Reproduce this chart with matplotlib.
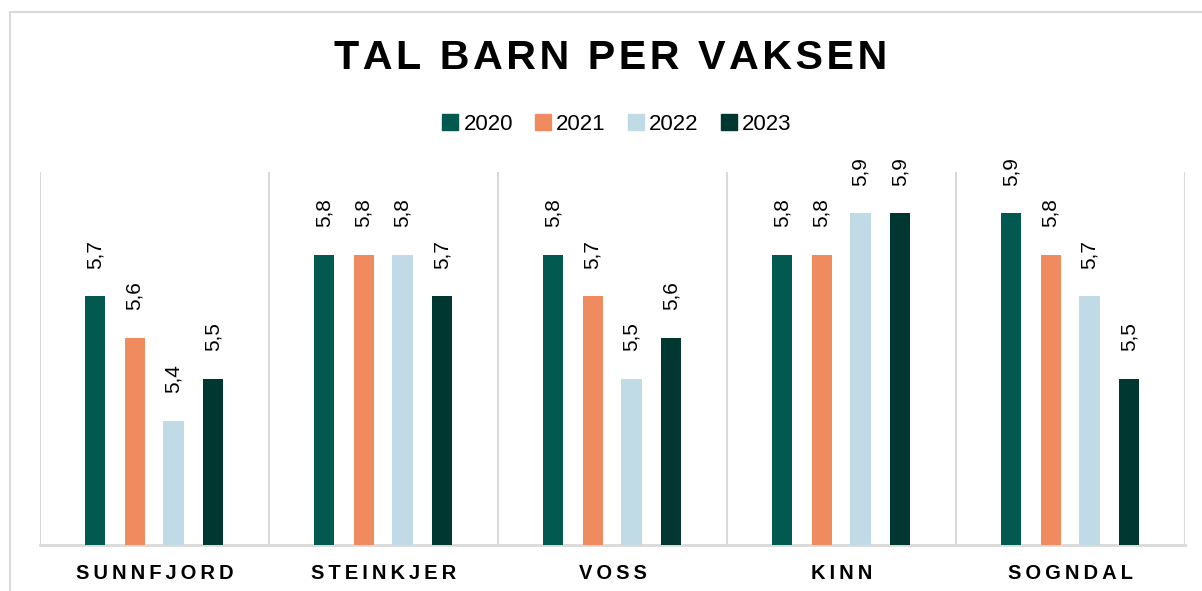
import numpy as np
import matplotlib.pyplot as plt
from matplotlib.patches import Rectangle, Patch

plt.rcParams['font.family'] = ['Liberation Sans', 'DejaVu Sans']

kommunar = ["SUNNFJORD", "STEINKJER", "VOSS", "KINN", "SOGNDAL"]
aar = ["2020", "2021", "2022", "2023"]
v2020 = [5.7, 5.8, 5.8, 5.8, 5.9]
v2021 = [5.6, 5.8, 5.7, 5.8, 5.8]
v2022 = [5.4, 5.8, 5.5, 5.9, 5.7]
v2023 = [5.5, 5.7, 5.6, 5.9, 5.5]
farger = ["#02594f", "#f08a5f", "#c1dbe6", "#003730"]


def sperr(tekst, sp="\u200a"):
    # fake letter spacing
    return sp.join(tekst)


W, H = 1202, 591
fig = plt.figure(figsize=(W / 100, H / 100), dpi=100)
ax = fig.add_axes([40 / W, 1 - 545 / H, (1185 - 40) / W, (545 - 172) / H])

# grey frame round the chart
fig.patches.append(Rectangle((10 / W, -0.1), 1.2, 1 - 12 / H + 0.1,
                             transform=fig.transFigure, fill=False,
                             edgecolor="#d9d9d9", linewidth=1.5))

x = np.arange(len(kommunar))
offs = [-0.26, -0.087, 0.083, 0.255]
bw = 0.088
for i, (vals, c) in enumerate(zip([v2020, v2021, v2022, v2023], farger)):
    bars = ax.bar(x + offs[i], vals, width=bw, color=c, label=aar[i], zorder=3)
    for b, v in zip(bars, vals):
        ax.annotate(f"{v:.1f}".replace(".", ","),
                    (b.get_x() + b.get_width() / 2, v),
                    xytext=(0, 20), textcoords="offset points",
                    rotation=90, ha="center", va="bottom", fontsize=15)

ax.set_xlim(-0.5, len(kommunar) - 0.5)
ax.set_ylim(5.1, 6.0)
ax.set_yticks([])
ax.set_xticks(x)
ax.set_xticklabels([sperr(k, "\u2009") for k in kommunar], fontsize=14.5,
                   fontweight="bold")
ax.tick_params(axis="x", length=0, pad=14)
ax.set_xticks(np.arange(len(kommunar) + 1) - 0.5, minor=True)
ax.tick_params(axis="x", which="minor", length=0)
ax.grid(axis="x", which="minor", color="#d9d9d9", linewidth=1.5, zorder=0)
for s in ["top", "right", "left"]:
    ax.spines[s].set_visible(False)
ax.spines["bottom"].set_color("#d9d9d9")
ax.spines["bottom"].set_linewidth(2)

fig.text(611 / W, 1 - 58 / H, sperr("TAL BARN PER VAKSEN"), ha="center",
         va="center", fontsize=29.7, fontweight="bold")

handles = [Patch(color=c) for c in farger]
fig.legend(handles, aar, loc="center", bbox_to_anchor=(617 / W, 1 - 124 / H),
           ncol=4, frameon=False, fontsize=16, handlelength=0.7,
           handleheight=0.7, handletextpad=0.25, columnspacing=1.0)

fig.savefig("out.png", dpi=100)
